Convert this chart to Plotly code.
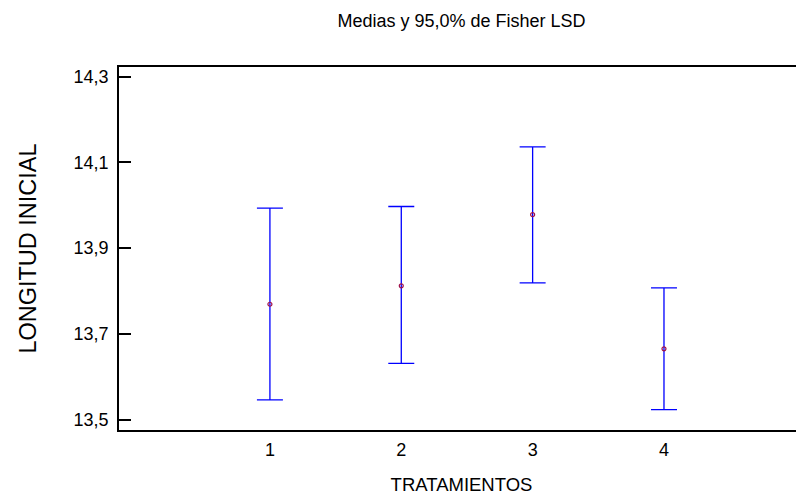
import plotly.graph_objects as go

tratamientos = [1, 2, 3, 4]
medias = [13.769, 13.812, 13.978, 13.665]
limite_superior = [13.993, 13.997, 14.136, 13.807]
limite_inferior = [13.546, 13.631, 13.819, 13.523]
y_ticks = [13.5, 13.7, 13.9, 14.1, 14.3]
y_ticklabels = ["13,5", "13,7", "13,9", "14,1", "14,3"]
x_ticks = [1, 2, 3, 4]
x_ticklabels = ["1", "2", "3", "4"]

err_plus = [u - m for u, m in zip(limite_superior, medias)]
err_minus = [m - l for m, l in zip(medias, limite_inferior)]

FONT = "Liberation Sans, Arial, sans-serif"

# The page body adds an 8px offset; the figure fills the rest of the 804x495 window.
W, H = 796, 487

fig = go.Figure()
fig.add_trace(go.Scatter(
    x=tratamientos, y=medias, mode="markers",
    marker=dict(symbol="circle-open", size=4, color="#a0104a", line=dict(width=1.2)),
    error_y=dict(type="data", symmetric=False, array=err_plus, arrayminus=err_minus,
                 color="#0000ff", thickness=1.3, width=13),
    showlegend=False, hoverinfo="skip",
))

shapes = []
for v in y_ticks:
    shapes.append(dict(type="line", xref="paper", yref="y", x0=0.997, x1=1.0, y0=v, y1=v,
                       line=dict(color="black", width=1.5)))

fig.update_layout(
    width=W, height=H,
    margin=dict(l=111, r=0, t=59, b=65),
    paper_bgcolor="white", plot_bgcolor="white",
    font=dict(family=FONT, size=18, color="black"),
    title=dict(text="Medias y 95,0% de Fisher LSD", x=0.5, xref="paper", xanchor="center",
               y=1 - 13 / H, yref="container", yanchor="middle",
               font=dict(family=FONT, size=18, color="black")),
    xaxis=dict(range=[-0.149, 5.066], tickmode="array", tickvals=x_ticks, ticktext=x_ticklabels,
               showgrid=False, zeroline=False, showline=True, linecolor="black", linewidth=1.5,
               mirror=True, ticks="", ticklabelstandoff=3,
               title=dict(text="TRATAMIENTOS", standoff=19, font=dict(family=FONT, size=18.5))),
    yaxis=dict(range=[13.4757, 14.3224], tickmode="array", tickvals=y_ticks, ticktext=y_ticklabels,
               showgrid=False, zeroline=False, showline=True, linecolor="black", linewidth=1.5,
               ticks="inside", ticklen=12, tickwidth=1.5, tickcolor="black", ticklabelstandoff=5,
               title=dict(text="LONGITUD INICIAL", standoff=30, font=dict(family=FONT, size=23.5))),
    shapes=shapes,
)

fig.write_html("out.html")
